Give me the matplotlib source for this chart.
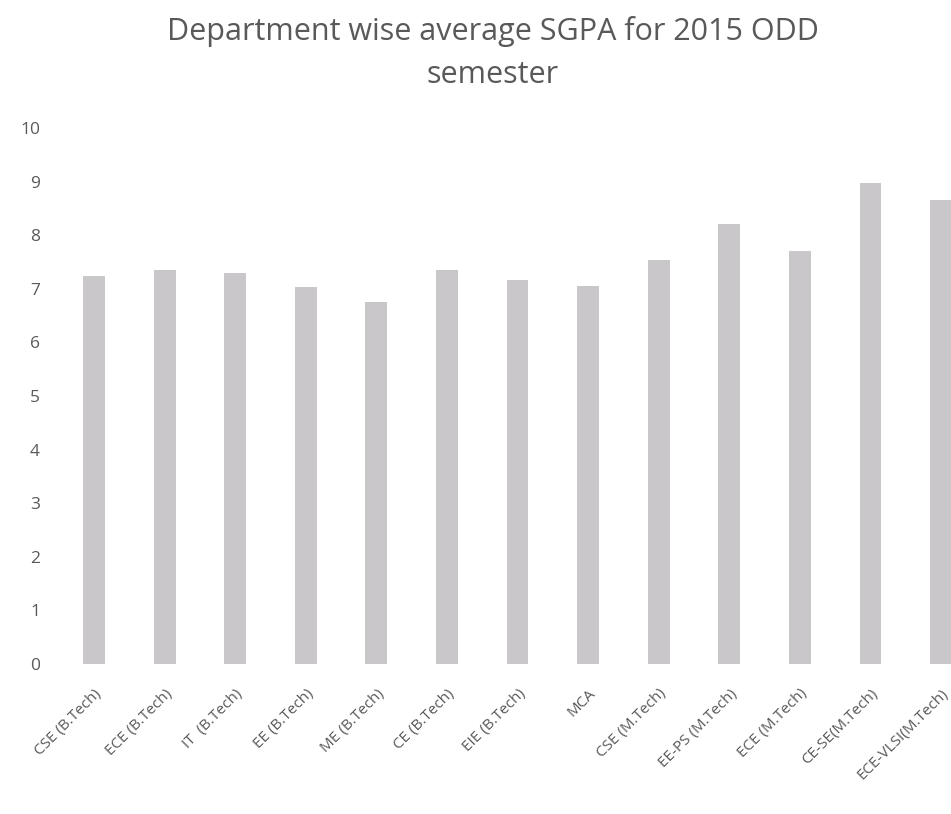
import numpy as np
import matplotlib
matplotlib.use("Agg")
import matplotlib.pyplot as plt

# departments and their average SGPA
departments = ["CSE (B.Tech)", "ECE (B.Tech)", "IT  (B.Tech)", "EE (B.Tech)",
               "ME (B.Tech)", "CE (B.Tech)", "EIE (B.Tech)", "MCA",
               "CSE (M.Tech)", "EE-PS (M.Tech)", "ECE (M.Tech)",
               "CE-SE(M.Tech)", "ECE-VLSI(M.Tech)"]
sgpa = [7.23, 7.35, 7.29, 7.03, 6.76, 7.35, 7.17, 7.06,
        7.54, 8.21, 7.71, 8.98, 8.65]
yticks = list(range(0, 11))

plt.rcParams['font.family'] = ['Open Sans', 'DejaVu Sans']
text_col = "#595959"

fig = plt.figure(figsize=(9.51, 8.14), dpi=100)
# axes runs a bit past the right edge, as in the cropped original
ax = fig.add_axes([0.0617, 0.1843, 0.965, 0.6585])

x = np.arange(len(departments))
ax.bar(x, sgpa, width=0.31, color="#cac7cb", edgecolor="none")

ax.set_xlim(-0.5, len(departments) - 0.5)
ax.set_ylim(0, 10)
ax.set_yticks(yticks)
ax.set_yticklabels([str(t) for t in yticks], fontsize=12.5, color=text_col)
ax.set_xticks(x)
ax.set_xticklabels(departments, rotation=45, ha="right", rotation_mode="anchor",
                   fontsize=11, color=text_col)
ax.tick_params(axis="y", length=0, pad=13.5)
ax.tick_params(axis="x", length=0, pad=16)
for s in ax.spines.values():
    s.set_visible(False)

fig.text(0.518, 0.935, "Department wise average SGPA for 2015 ODD\nsemester",
         ha="center", va="center", fontsize=22, color=text_col,
         linespacing=1.6)

fig.savefig("out.png", dpi=100)
